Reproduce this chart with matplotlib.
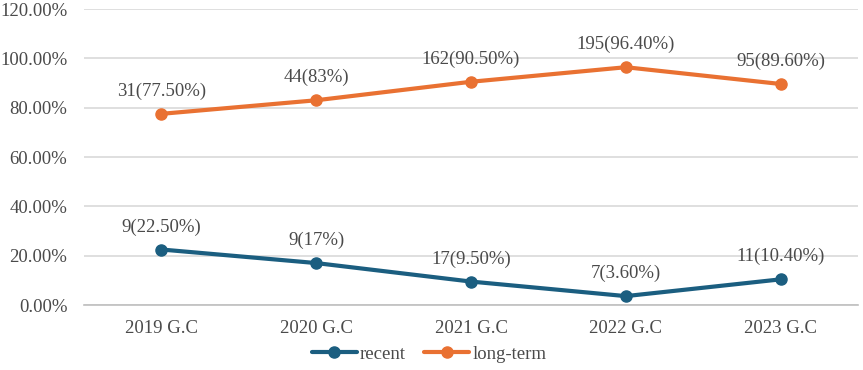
import matplotlib
matplotlib.use("Agg")
import matplotlib.pyplot as plt
from matplotlib.ticker import FuncFormatter

years = ["2019 G.C", "2020 G.C", "2021 G.C", "2022 G.C", "2023 G.C"]
recent = [22.5, 17.0, 9.5, 3.6, 10.4]
long_term = [77.5, 83.0, 90.5, 96.4, 89.6]
recent_labels = ["9(22.50%)", "9(17%)", "17(9.50%)", "7(3.60%)", "11(10.40%)"]
long_labels = ["31(77.50%)", "44(83%)", "162(90.50%)", "195(96.40%)", "95(89.60%)"]

plt.rcParams['font.family'] = ['Liberation Serif', 'DejaVu Serif']

fig = plt.figure(figsize=(8.63, 3.70), dpi=100)
ax = fig.add_axes([84/863, 65/370, 774/863, 296/370])

blue = "#1b5e80"
orange = "#e97132"
txt = '#4a4a4a'
fs = 13.5
x = list(range(len(years)))
ax.plot(x, recent, color=blue, lw=3, marker='o', ms=8, label="recent", solid_capstyle='round')
ax.plot(x, long_term, color=orange, lw=3, marker='o', ms=8, label="long-term", solid_capstyle='round')

for xi, v, t in zip(x, recent, recent_labels):
    ax.annotate(t, (xi, v), xytext=(0, 10), textcoords='offset points', ha='center', va='bottom',
                fontsize=fs, color=txt)
for xi, v, t in zip(x, long_term, long_labels):
    ax.annotate(t, (xi, v), xytext=(0, 10), textcoords='offset points', ha='center', va='bottom',
                fontsize=fs, color=txt)

ax.set_xlim(-0.5, len(years) - 0.5)
ax.set_ylim(0, 120)
ax.set_yticks([0, 20, 40, 60, 80, 100, 120])
ax.yaxis.set_major_formatter(FuncFormatter(lambda v, p: f"{v:.2f}%"))
ax.set_xticks(x)
ax.set_xticklabels(years)
ax.tick_params(axis='both', length=0, labelsize=fs, colors=txt)
ax.tick_params(axis='x', pad=11)
ax.tick_params(axis='y', pad=12)
ax.grid(axis='y', color='#d9d9d9', lw=1.2)
ax.set_axisbelow(True)
for s in ['top', 'right', 'left']:
    ax.spines[s].set_visible(False)
ax.spines['bottom'].set_color('#bfbfbf')
ax.spines['bottom'].set_linewidth(1.2)

fig.legend(loc='center', bbox_to_anchor=(429/863, 1 - 354/370), ncol=2, frameon=False,
           fontsize=fs, handlelength=2.4, columnspacing=1.0, handletextpad=0.15, labelcolor=txt)

fig.savefig("out.png", dpi=100)
